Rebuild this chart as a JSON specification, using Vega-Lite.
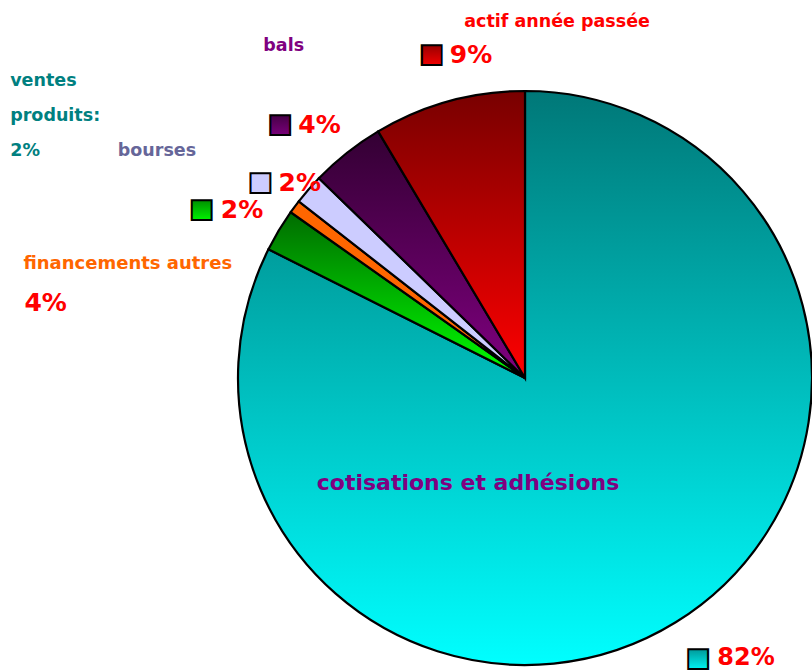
{
"$schema":"https://vega.github.io/schema/vega-lite/v6.json",
"width":574,"height":574,
"autosize":{"type":"none"},
"padding":{"left":238,"top":91,"right":0,"bottom":6},
"background":"white",
"view":{"stroke":null},
"config":{"text":{"font":"DejaVu Sans","fontWeight":"bold"}},
"data":{"values":[
{"key":"cot","label":"cotisations et adhésions","pct":"82%","v":82.4,"order":1},
{"key":"ventes","label":"ventes\nproduits:\n2%","pct":"2%","v":2.4,"order":2},
{"key":"fin","label":"financements autres","pct":"4%","v":0.75,"order":3},
{"key":"bourses","label":"bourses","pct":"2%","v":1.7,"order":4},
{"key":"bals","label":"bals","pct":"4%","v":4.2,"order":5},
{"key":"actif","label":"actif année passée","pct":"9%","v":8.55,"order":6}
]},
"transform":[
{"stack":"v","groupby":[],"sort":[{"field":"order","order":"ascending"}],"as":["start","end"]},
{"calculate":"(datum.start+datum.end)/2","as":"mid"}
],
"layer":[
{"mark":{"type":"arc","radius":287,"stroke":"black","strokeWidth":2.2},
 "encoding":{
  "theta":{"field":"start","type":"quantitative","stack":null,"scale":{"domain":[0,100]}},
  "theta2":{"field":"end"},
  "fill":{"condition":[
   {"test":"datum.key==='cot'","value":{"gradient":"linear","x1":0,"y1":0,"x2":0,"y2":1,"stops":[{"offset":0,"color":"#007878"},{"offset":1,"color":"#00ffff"}]}},
   {"test":"datum.key==='ventes'","value":{"gradient":"linear","x1":0,"y1":0,"x2":0,"y2":1,"stops":[{"offset":0,"color":"#006c00"},{"offset":1,"color":"#00ff00"}]}},
   {"test":"datum.key==='fin'","value":"#ff6600"},
   {"test":"datum.key==='bourses'","value":"#ccccff"},
   {"test":"datum.key==='bals'","value":{"gradient":"linear","x1":0,"y1":0,"x2":0,"y2":1,"stops":[{"offset":0,"color":"#330033"},{"offset":1,"color":"#800080"}]}}
  ],"value":{"gradient":"linear","x1":0,"y1":0,"x2":0,"y2":1,"stops":[{"offset":0,"color":"#780000"},{"offset":1,"color":"#ff0000"}]}}
 }},
{"transform":[{"filter":"datum.key==='cot'"}],
 "mark":{"type":"text","text":"■","radius":330,"dx":0,"dy":-1,"fontSize":26,"align":"center","baseline":"middle","stroke":"black","strokeWidth":2,"fill":{"gradient":"linear","x1":0,"y1":0,"x2":0,"y2":1,"stops":[{"offset":0,"color":"#007878"},{"offset":1,"color":"#00ffff"}]}},
 "encoding":{"theta":{"field":"mid","type":"quantitative","stack":null}}},
{"transform":[{"filter":"datum.key==='actif'"}],
 "mark":{"type":"text","text":"■","radius":336,"dx":-4,"dy":0,"fontSize":26,"align":"center","baseline":"middle","stroke":"black","strokeWidth":2,"fill":{"gradient":"linear","x1":0,"y1":0,"x2":0,"y2":1,"stops":[{"offset":0,"color":"#780000"},{"offset":1,"color":"#ff0000"}]}},
 "encoding":{"theta":{"field":"mid","type":"quantitative","stack":null}}},
{"transform":[{"filter":"datum.key==='bals'"}],
 "mark":{"type":"text","text":"■","radius":351,"dx":-27,"dy":21,"fontSize":26,"align":"center","baseline":"middle","stroke":"black","strokeWidth":2,"fill":{"gradient":"linear","x1":0,"y1":0,"x2":0,"y2":1,"stops":[{"offset":0,"color":"#330033"},{"offset":1,"color":"#800080"}]}},
 "encoding":{"theta":{"field":"mid","type":"quantitative","stack":null}}},
{"transform":[{"filter":"datum.key==='bourses'"}],
 "mark":{"type":"text","text":"■","radius":328,"dx":-17,"dy":19,"fontSize":26,"align":"center","baseline":"middle","stroke":"black","strokeWidth":2,"fill":"#ccccff"},
 "encoding":{"theta":{"field":"mid","type":"quantitative","stack":null}}},
{"transform":[{"filter":"datum.key==='ventes'"}],
 "mark":{"type":"text","text":"■","radius":364,"dx":-11,"dy":18,"fontSize":26,"align":"center","baseline":"middle","stroke":"black","strokeWidth":2,"fill":{"gradient":"linear","x1":0,"y1":0,"x2":0,"y2":1,"stops":[{"offset":0,"color":"#006c00"},{"offset":1,"color":"#00ff00"}]}},
 "encoding":{"theta":{"field":"mid","type":"quantitative","stack":null}}},
{"transform":[{"filter":"datum.key==='cot'"}],
 "mark":{"type":"text","radius":330,"dx":19,"dy":-1,"fontSize":24,"align":"left","baseline":"middle","fill":"#ff0000"},
 "encoding":{"theta":{"field":"mid","type":"quantitative","stack":null},"text":{"field":"pct"}}},
{"transform":[{"filter":"datum.key==='actif'"}],
 "mark":{"type":"text","radius":336,"dx":14,"dy":1,"fontSize":25,"align":"left","baseline":"middle","fill":"#ff0000"},
 "encoding":{"theta":{"field":"mid","type":"quantitative","stack":null},"text":{"field":"pct"}}},
{"transform":[{"filter":"datum.key==='bals'"}],
 "mark":{"type":"text","radius":351,"dx":-9,"dy":22,"fontSize":25,"align":"left","baseline":"middle","fill":"#ff0000"},
 "encoding":{"theta":{"field":"mid","type":"quantitative","stack":null},"text":{"field":"pct"}}},
{"transform":[{"filter":"datum.key==='bourses'"}],
 "mark":{"type":"text","radius":328,"dx":1,"dy":20,"fontSize":25,"align":"left","baseline":"middle","fill":"#ff0000"},
 "encoding":{"theta":{"field":"mid","type":"quantitative","stack":null},"text":{"field":"pct"}}},
{"transform":[{"filter":"datum.key==='ventes'"}],
 "mark":{"type":"text","radius":364,"dx":8,"dy":19,"fontSize":25,"align":"left","baseline":"middle","fill":"#ff0000"},
 "encoding":{"theta":{"field":"mid","type":"quantitative","stack":null},"text":{"field":"pct"}}},
{"transform":[{"filter":"datum.key==='fin'"}],
 "mark":{"type":"text","radius":387,"dx":-190,"dy":156,"fontSize":25,"align":"left","baseline":"middle","fill":"#ff0000"},
 "encoding":{"theta":{"field":"mid","type":"quantitative","stack":null},"text":{"field":"pct"}}},
{"transform":[{"filter":"datum.key==='actif'"}],
 "mark":{"type":"text","radius":369,"dx":130,"dy":0,"fontSize":17.5,"align":"center","baseline":"middle","fill":"#ff0000"},
 "encoding":{"theta":{"field":"mid","type":"quantitative","stack":null},"text":{"field":"label"}}},
{"transform":[{"filter":"datum.key==='bals'"}],
 "mark":{"type":"text","radius":410,"dx":13,"dy":-10,"fontSize":17.5,"align":"center","baseline":"middle","fill":"#800080"},
 "encoding":{"theta":{"field":"mid","type":"quantitative","stack":null},"text":{"field":"label"}}},
{"transform":[{"filter":"datum.key==='bourses'"}],
 "mark":{"type":"text","radius":427,"dx":-46,"dy":53,"fontSize":17.5,"align":"center","baseline":"middle","fill":"#666699"},
 "encoding":{"theta":{"field":"mid","type":"quantitative","stack":null},"text":{"field":"label"}}},
{"transform":[{"filter":"datum.key==='ventes'"}],
 "mark":{"type":"text","radius":577,"dx":-20,"dy":0,"fontSize":17.5,"align":"left","baseline":"middle","lineBreak":"\n","lineHeight":35,"fill":"#008080"},
 "encoding":{"theta":{"field":"mid","type":"quantitative","stack":null},"text":{"field":"label"}}},
{"transform":[{"filter":"datum.key==='fin'"}],
 "mark":{"type":"text","radius":387,"dx":-191,"dy":117,"fontSize":18,"align":"left","baseline":"middle","fill":"#ff6600"},
 "encoding":{"theta":{"field":"mid","type":"quantitative","stack":null},"text":{"field":"label"}}},
{"transform":[{"filter":"datum.key==='cot'"}],
 "mark":{"type":"text","radius":120,"dx":-120,"dy":3,"fontSize":22,"align":"center","baseline":"middle","fill":"#800080"},
 "encoding":{"theta":{"field":"mid","type":"quantitative","stack":null},"text":{"field":"label"}}}
]
}
